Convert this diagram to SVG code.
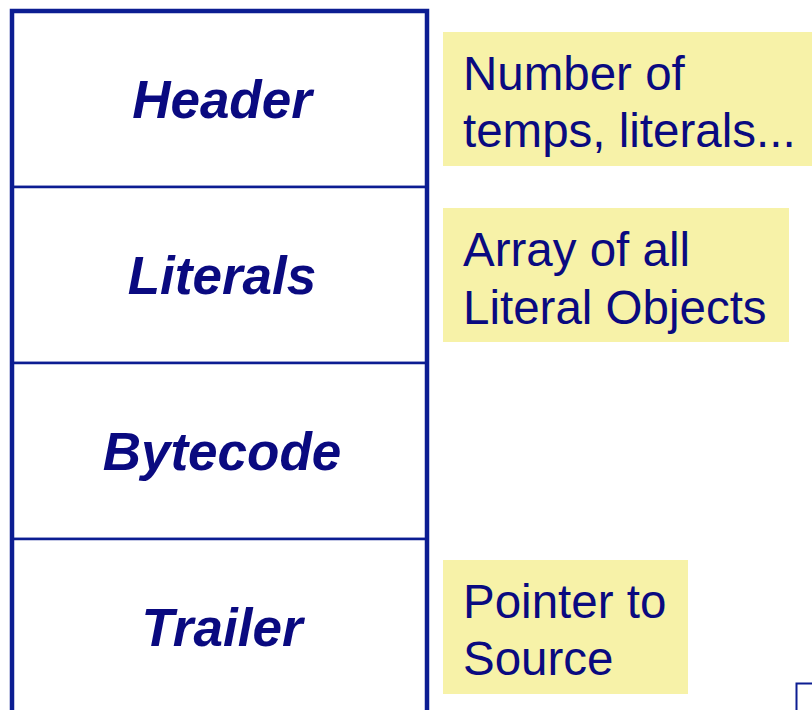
<svg xmlns="http://www.w3.org/2000/svg" width="812" height="710" viewBox="0 0 812 710">
<style>
.cell{fill:#fff;stroke:#0c1d92;stroke-width:2.5}
.frame{fill:none;stroke:#0c1d92;stroke-width:4.5}
.lbl{font-family:"Liberation Sans",Arial,sans-serif;font-weight:bold;font-style:italic;font-size:53px;fill:#0a0a80;text-anchor:middle}
.note{fill:#f7f2a8}
.nt{font-family:"Liberation Sans",Arial,sans-serif;font-size:47.5px;fill:#0a0a80}
</style>
<rect width="812" height="710" fill="#fff"/>
<g id="method">
<g id="header"><rect class="cell" x="12" y="11" width="415" height="176"/><text class="lbl" x="222" y="118">Header</text></g>
<g id="literals"><rect class="cell" x="12" y="187" width="415" height="176"/><text class="lbl" x="222" y="294">Literals</text></g>
<g id="bytecode"><rect class="cell" x="12" y="363" width="415" height="176"/><text class="lbl" x="222" y="470">Bytecode</text></g>
<g id="trailer"><rect class="cell" x="12" y="539" width="415" height="190"/><text class="lbl" x="222" y="646">Trailer</text></g>
<path class="frame" d="M12,740 V11 H427 V740"/>
</g>
<g id="note-header"><rect class="note" x="443" y="32" width="380" height="134"/><text class="nt" x="463" y="90">Number of</text><text class="nt" x="463" y="147">temps, literals...</text></g>
<g id="note-literals"><rect class="note" x="443" y="208" width="346" height="134"/><text class="nt" x="463" y="266">Array of all</text><text class="nt" x="463" y="324">Literal Objects</text></g>
<g id="note-trailer"><rect class="note" x="443" y="560" width="245" height="134"/><text class="nt" x="463" y="618">Pointer to</text><text class="nt" x="463" y="675">Source</text></g>
<g id="corner"><path d="M796.5,720 V683.5 H820" fill="none" stroke="#0c1d92" stroke-width="2"/></g>
<g id="connectors"></g>
</svg>
